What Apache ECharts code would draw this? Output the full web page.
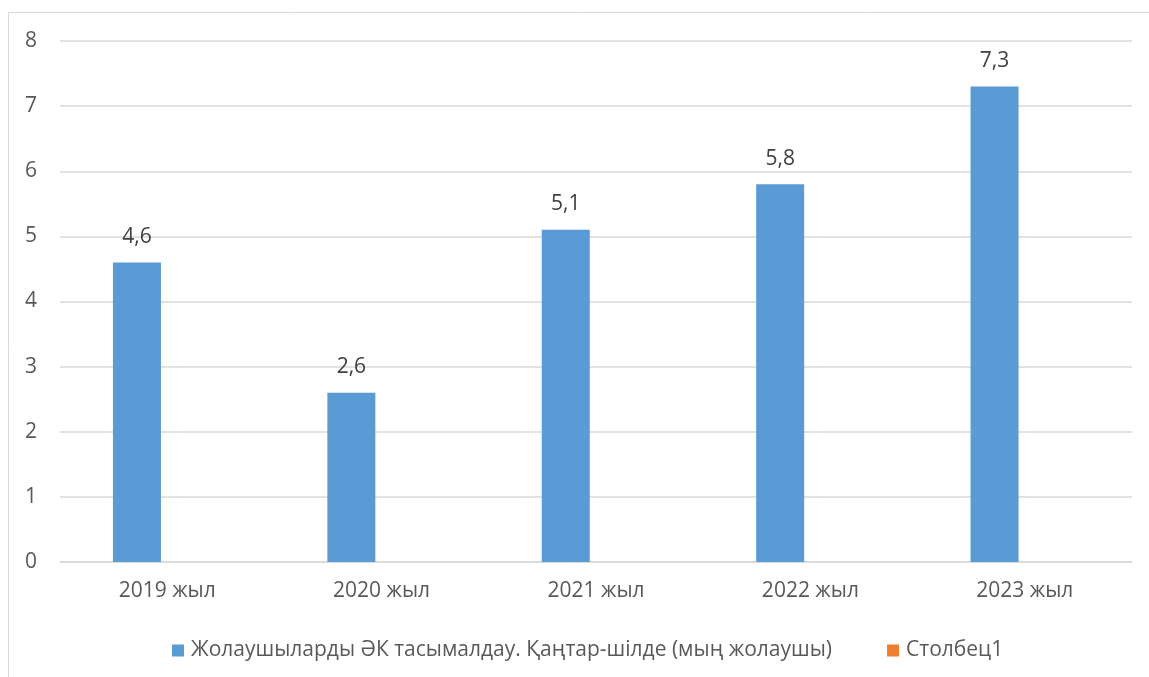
<!DOCTYPE html>
<html><head><meta charset="utf-8">
<script src="https://cdn.jsdelivr.net/npm/echarts@6/dist/echarts.min.js"></script>
<style>html,body{margin:0;padding:0;background:#fff}#c{width:1149px;height:677px}</style>
</head><body><div id="c"></div>
<script>
const categories = ['2019 жыл','2020 жыл','2021 жыл','2022 жыл','2023 жыл'];
const seriesNames = ['Жолаушыларды ӘК тасымалдау. Қаңтар-шілде (мың жолаушы)','Столбец1'];
const values1 = [4.6, 2.6, 5.1, 5.8, 7.3];
const values2 = [null, null, null, null, null];
const yTicks = [0,1,2,3,4,5,6,7,8];

const font = '"Open Sans", "Noto Sans", sans-serif';
const chart = echarts.init(document.getElementById('c'), null, {renderer:'canvas'});
chart.setOption({
  backgroundColor:'#fff',
  animation:false,
  textStyle:{fontFamily:font},
  graphic:[{type:'rect', shape:{x:8.5,y:12.5,width:1200,height:700}, style:{fill:'none',stroke:'#d9d9d9',lineWidth:1}, silent:true}],
  grid:{left:60,right:17,top:41,bottom:115,containLabel:false},
  legend:{
    data:seriesNames, top:635, left:167, itemWidth:12, itemHeight:12, itemGap:55,
    icon:'rect',
    textStyle:{color:'#595959',fontSize:21,fontFamily:font,padding:[0,0,0,2]}
  },
  xAxis:{
    type:'category', data:categories,
    axisLine:{lineStyle:{color:'#d9d9d9',width:1.5}},
    axisTick:{show:false},
    axisLabel:{color:'#595959',fontSize:21,margin:19,fontFamily:font}
  },
  yAxis:{
    type:'value', min:yTicks[0], max:yTicks[yTicks.length-1], interval:1,
    axisLine:{show:false}, axisTick:{show:false},
    splitLine:{lineStyle:{color:'#d9d9d9',width:1.5}},
    axisLabel:{color:'#595959',fontSize:21,margin:23,fontFamily:font}
  },
  series:[
    {name:seriesNames[0], type:'bar', data:values1, itemStyle:{color:'#5b9bd5'},
     barGap:'26%', barCategoryGap:'49.4%',
     label:{show:true, position:'top', distance:15, color:'#404040', fontSize:21, fontFamily:font,
       formatter:p=>String(p.value).replace('.',',')}},
    {name:seriesNames[1], type:'bar', data:values2, itemStyle:{color:'#ed7d31'},
     barGap:'26%', barCategoryGap:'49.4%'}
  ]
});
</script></body></html>
